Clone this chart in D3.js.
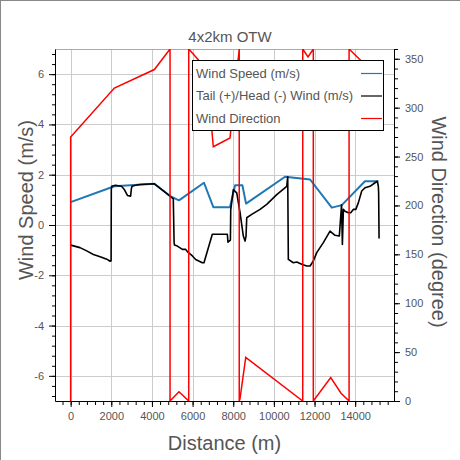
<!DOCTYPE html>
<html>
<head>
<meta charset="utf-8">
<script src="https://cdn.jsdelivr.net/npm/d3@7"></script>
<style>
  html, body { margin: 0; padding: 0; background: #fff; }
  svg { display: block; font-family: "Liberation Sans", Arial, Helvetica, sans-serif; }
</style>
</head>
<body>
<svg id="chart" width="460" height="460"></svg>
<script>
// ---------- data ----------
const chartTitle = "4x2km OTW";
const xTicks = [0, 2000, 4000, 6000, 8000, 10000, 12000, 14000];
const yLeftTicks = [-6, -4, -2, 0, 2, 4, 6];
const yRightTicks = [0, 50, 100, 150, 200, 250, 300, 350];

const speedDist = [0, 2150, 4120, 4890, 5330, 6560, 7020, 7840, 8090, 8450, 8630, 10550, 11780, 12850, 13340, 14480, 15140];
const speedVal  = [0.91, 1.54, 1.64, 1.15, 0.98, 1.68, 0.71, 0.71, 1.58, 1.58, 0.85, 1.92, 1.81, 0.69, 0.79, 1.74, 1.74];

const tailDist = [0, 460, 790, 1120, 1450, 1780, 1940, 1990, 2000, 2020, 2200, 2500, 2650, 2800, 2950, 2990, 3020, 3200, 3400, 4120, 4500, 4890, 5050,
  5090, 5110, 5250, 5500, 5660, 5740, 5990, 6150, 6480, 6560, 6970, 7710, 7740, 7860, 7877,
  8005, 8172, 8335, 8497, 8581, 8630, 8664, 8910, 9319, 9648, 10140, 10632, 10681,
  10711, 10957, 11124, 11370, 11616, 11779, 11941, 12108, 12433, 12762, 13008, 13220,
  13330, 13370, 13420, 13500, 13662, 13780, 13908, 14030, 14155, 14322, 14484, 14730, 14976, 15090, 15139, 15154, 15175];
const tailVal = [-0.80, -0.90, -1.03, -1.17, -1.26, -1.36, -1.44, -1.42, 1.40, 1.54, 1.58, 1.54, 1.40, 1.17, 1.15, 1.45, 1.54, 1.58, 1.61, 1.64, 1.40, 1.15, 1.04,
  -0.70, -0.80, -0.84, -0.97, -0.97, -1.06, -1.23, -1.37, -1.50, -1.50, -0.37, -0.37, -0.68, -0.60, 0.60,
  1.41, 1.28, 0.49, -0.44, -0.64, -0.44, 0.29, 0.42, 0.62, 0.82, 1.21, 1.54, 1.92,
  -1.37, -1.50, -1.47, -1.56, -1.63, -1.63, -1.43, -1.10, -0.70, -0.24, -0.41, -0.44,
  0.80, -0.77, 0.62, 0.55, 0.49, 0.49, 0.62, 0.62, 0.88, 1.35, 1.48, 1.54, 1.68, 1.74, 1.54, 1.28, -0.54];

const dirDist = [0, 0, 2150, 4120, 4890, 4890, 5330, 5810, 5810, 6280, 6700, 7020, 7840, 8295, 8295, 8330, 8615, 11420, 11420, 11680, 11940, 11940, 12797, 13304, 13700, 13700, 14340, 15180];
const dirVal  = [0, 270, 320, 339, 360, 0, 9.5, 0, 360, 349, 335, 260, 269, 360, 0, 2, 44.7, 0, 360, 352, 360, 0, 24, 8, 0, 360, 347, 330];

const legendLabels = ["Wind Speed (m/s)", "Tail (+)/Head (-) Wind (m/s)", "Wind Direction"];
const seriesColors = ["#1f77b4", "#000000", "#ff0000"];

// ---------- layout ----------
const L = 55, R = 394, T = 49, B = 401;
const svg = d3.select("#chart");
const textColor = "#555";

const x = d3.scaleLinear().domain([-770, 15910]).range([L, R]);
const yL = d3.scaleLinear().domain([-7, 7]).range([B, T]);
const yR = d3.scaleLinear().domain([0, 360]).range([B, T]);

// figure border (left / top)
svg.append("line").attr("x1", 0.5).attr("x2", 0.5).attr("y1", 0).attr("y2", 460).attr("stroke", "#888");
svg.append("line").attr("x1", 0).attr("x2", 460).attr("y1", 0.5).attr("y2", 0.5).attr("stroke", "#888");

// grid
const grid = svg.append("g").attr("stroke", "#cccccc").attr("stroke-width", 1);
xTicks.forEach(t => grid.append("line")
  .attr("x1", Math.round(x(t)) + 0.5).attr("x2", Math.round(x(t)) + 0.5)
  .attr("y1", T).attr("y2", B));
yLeftTicks.forEach(t => grid.append("line")
  .attr("x1", L).attr("x2", R)
  .attr("y1", Math.round(yL(t)) + 0.5).attr("y2", Math.round(yL(t)) + 0.5));
// top frame
svg.append("line").attr("x1", L).attr("x2", R).attr("y1", T + 0.5).attr("y2", T + 0.5).attr("stroke", "#aaaaaa");

// clip
svg.append("defs").append("clipPath").attr("id", "plotclip")
  .append("rect").attr("x", L).attr("y", T).attr("width", R - L).attr("height", B - T);
const plot = svg.append("g").attr("clip-path", "url(#plotclip)");

const speedData = speedDist.map((d, i) => [d, speedVal[i]]);
const tailData = tailDist.map((d, i) => [d, tailVal[i]]);
const dirData = dirDist.map((d, i) => [d, dirVal[i]]);

const lineL = d3.line().x(d => x(d[0])).y(d => yL(d[1]));
const lineR = d3.line().x(d => x(d[0])).y(d => yR(d[1]));

plot.append("path").datum(speedData).attr("d", lineL)
  .attr("fill", "none").attr("stroke", seriesColors[0]).attr("stroke-width", 2).attr("stroke-linejoin", "round");
plot.append("path").datum(tailData).attr("d", lineL)
  .attr("fill", "none").attr("stroke", seriesColors[1]).attr("stroke-width", 1.6).attr("stroke-linejoin", "round");
plot.append("path").datum(dirData).attr("d", lineR)
  .attr("fill", "none").attr("stroke", seriesColors[2]).attr("stroke-width", 1.5).attr("stroke-linejoin", "miter");

// ---------- axes ----------
function styleAxis(g) {
  g.selectAll(".domain").attr("stroke", "#000");
  g.selectAll(".tick line").attr("stroke", "#000");
  g.selectAll(".tick text").attr("fill", textColor).attr("font-size", 11)
    .attr("font-family", "'Liberation Sans', Arial, sans-serif");
}
const xMinor = d3.range(-400, 15910, 400);
const yLMinor = d3.range(-6.8, 7.01, 0.4).map(v => +v.toFixed(2));
const yRMinor = d3.range(0, 361, 10);

// minor ticks
svg.append("g").attr("transform", `translate(0,${B})`)
  .call(d3.axisBottom(x).tickValues(xMinor).tickSize(4).tickFormat("").tickSizeOuter(0))
  .call(g => { g.select(".domain").remove(); g.selectAll("line").attr("stroke", "#000"); });
svg.append("g").attr("transform", `translate(${L},0)`)
  .call(d3.axisLeft(yL).tickValues(yLMinor).tickSize(3).tickFormat("").tickSizeOuter(0))
  .call(g => { g.select(".domain").remove(); g.selectAll("line").attr("stroke", "#000"); });
svg.append("g").attr("transform", `translate(${R},0)`)
  .call(d3.axisRight(yR).tickValues(yRMinor).tickSize(4).tickFormat("").tickSizeOuter(0))
  .call(g => { g.select(".domain").remove(); g.selectAll("line").attr("stroke", "#000"); });

// major
svg.append("g").attr("transform", `translate(0,${B})`)
  .call(d3.axisBottom(x).tickValues(xTicks).tickSize(6).tickPadding(5).tickFormat(d3.format("d")).tickSizeOuter(0))
  .call(styleAxis);
svg.append("g").attr("transform", `translate(${L},0)`)
  .call(d3.axisLeft(yL).tickValues(yLeftTicks).tickSize(6).tickPadding(5).tickFormat(d => String(d).replace("−", "-")).tickSizeOuter(0))
  .call(styleAxis);
svg.append("g").attr("transform", `translate(${R},0)`)
  .call(d3.axisRight(yR).tickValues(yRightTicks).tickSize(6).tickPadding(5).tickFormat(d3.format("d")).tickSizeOuter(0))
  .call(styleAxis);

// ---------- titles ----------
svg.append("text").attr("x", 230).attr("y", 42).attr("text-anchor", "middle")
  .attr("font-size", 15).attr("fill", textColor).text(chartTitle);
svg.append("text").attr("x", (L + R) / 2).attr("y", 450).attr("text-anchor", "middle")
  .attr("font-size", 20).attr("fill", textColor).text("Distance (m)");
svg.append("text").attr("transform", `translate(33,200) rotate(-90)`).attr("text-anchor", "middle")
  .attr("font-size", 20).attr("fill", textColor).text("Wind Speed (m/s)");
svg.append("text").attr("transform", `translate(432,222) rotate(90)`).attr("text-anchor", "middle")
  .attr("font-size", 20).attr("fill", textColor).text("Wind Direction (degree)");

// ---------- legend ----------
const lg = svg.append("g");
lg.append("rect").attr("x", 192.5).attr("y", 60.5).attr("width", 191).attr("height", 70)
  .attr("fill", "#fff").attr("stroke", "#000").attr("stroke-width", 1);
legendLabels.forEach((lab, i) => {
  const cy = 73 + i * 22.5;
  lg.append("text").attr("x", 196).attr("y", cy + 4.5).attr("font-size", 13).attr("fill", textColor).text(lab);
  lg.append("line").attr("x1", 361).attr("x2", 382).attr("y1", cy + 0.5).attr("y2", cy + 0.5)
    .attr("stroke", seriesColors[i]).attr("stroke-width", 1.2);
});
</script>
</body>
</html>
